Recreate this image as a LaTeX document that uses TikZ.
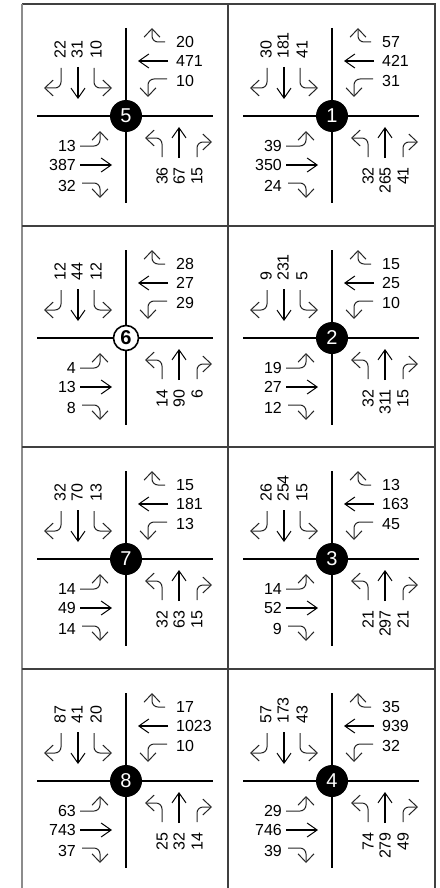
\documentclass[tikz,border=0pt]{standalone}
\usepackage{fontspec}
\setmainfont{Liberation Sans}
\usetikzlibrary{arrows.meta}
\tikzset{
  road/.style={line width=2pt, black},
  thru/.style={line width=1.8pt, black, -{Straight Barb[length=10pt,width=14pt,line width=1pt]}},
  turn/.style={line width=1pt, black!85, rounded corners=6pt, -{Straight Barb[length=8.5pt,width=16pt,line width=1pt]}},
  lab/.style={font=\fontsize{16}{16}\selectfont, inner sep=0pt},
  frame/.style={line width=1.2pt, black!75},
  blk/.style={circle, fill=black, text=white, minimum size=32pt, inner sep=0pt, font=\fontsize{20}{20}\selectfont},
  wht/.style={circle, draw=black, line width=1.6pt, fill=white, text=black, minimum size=25pt, inner sep=0pt, font=\fontsize{20}{20}\selectfont\bfseries},
}
\begin{document}
\begin{tikzpicture}[x=1pt,y=-1pt]
\useasboundingbox (0,0) rectangle (439,888);
% frame
\draw[frame] (22,4) -- (435,4) -- (435,888);
\draw[line width=1.5pt, black!45] (22,4) -- (22,888);
\draw[frame] (228,4) -- (228,888);
\draw[frame] (22,226) -- (435,226);
\draw[frame] (22,447) -- (435,447);
\draw[frame] (22,669) -- (435,669);
\foreach \cx/\cy/\n/\st/\a/\b/\c/\d/\e/\f/\g/\h/\i/\j/\k/\l in {
  126/116/5/blk/20/471/10/22/31/10/13/387/32/36/67/15,
  332/116/1/blk/57/421/31/30/181/41/39/350/24/32/265/41,
  126/338/6/wht/28/27/29/12/44/12/4/13/8/14/90/6,
  332/338/2/blk/15/25/10/9/231/5/19/27/12/32/311/15,
  126/559/7/blk/15/181/13/32/70/13/14/49/14/32/63/15,
  332/559/3/blk/13/163/45/26/254/15/14/52/9/21/297/21,
  126/781/8/blk/17/1023/10/87/41/20/63/743/37/25/32/14,
  332/781/4/blk/35/939/32/57/173/43/29/746/39/74/279/49}{
\begin{scope}[shift={(\cx,\cy)}]
  \draw[road] (0,-88) -- (0,87);
  \draw[road] (-89,0) -- (87,0);
  \node[\st] (c\n) at (0,0) {\n};
  % NE: westbound
  \draw[turn] (39,-74) -- (26,-74) -- (26,-88);
  \draw[thru] (42,-55) -- (12,-55);
  \draw[turn] (41,-37) -- (22,-37) -- (22,-19);
  \node[lab,anchor=west] (nea\n) at (50,-74) {\a};
  \node[lab,anchor=west] (neb\n) at (50,-55) {\b};
  \node[lab,anchor=west] (nec\n) at (50,-35) {\c};
  % NW: southbound
  \draw[turn] (-65,-48) -- (-65,-28) -- (-82,-28);
  \draw[thru] (-48,-49) -- (-48,-17);
  \draw[turn] (-32,-48) -- (-32,-28) -- (-14,-28);
  \node[lab,rotate=90,anchor=west] (nwa\n) at (-66,-57) {\d};
  \node[lab,rotate=90,anchor=west] (nwb\n) at (-49,-57) {\e};
  \node[lab,rotate=90,anchor=west] (nwc\n) at (-30,-57) {\f};
  % SW: eastbound
  \draw[turn] (-46,30) -- (-26,30) -- (-26,15);
  \draw[thru] (-46,49) -- (-14,49);
  \draw[turn] (-44,67) -- (-26,67) -- (-26,82);
  \node[lab,anchor=east] (swa\n) at (-50,30) {\g};
  \node[lab,anchor=east] (swb\n) at (-50,49) {\h};
  \node[lab,anchor=east] (swc\n) at (-50,70) {\i};
  % SE: northbound
  \draw[turn] (36,41) -- (36,22) -- (19,22);
  \draw[thru] (53,42) -- (53,11);
  \draw[turn] (71,41) -- (71,26) -- (86,26);
  \node[lab,rotate=90,anchor=east] (sea\n) at (36,51) {\j};
  \node[lab,rotate=90,anchor=east] (seb\n) at (53,51) {\k};
  \node[lab,rotate=90,anchor=east] (sec\n) at (71,51) {\l};
\end{scope}
}
\end{tikzpicture}
\end{document}
